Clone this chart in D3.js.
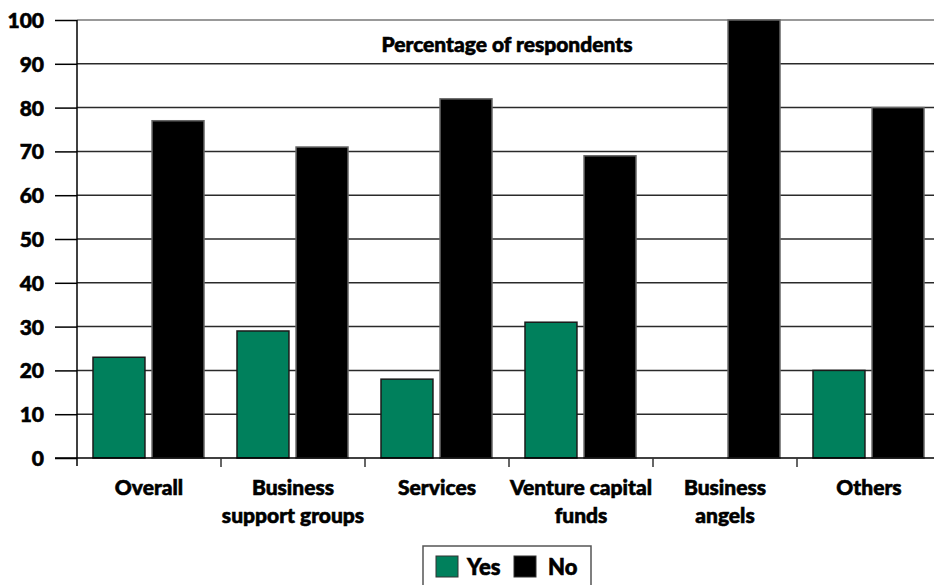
<!DOCTYPE html>
<html>
<head>
<meta charset="utf-8">
<script src="https://cdn.jsdelivr.net/npm/d3@7"></script>
<style>
  html, body { margin: 0; padding: 0; background: #fff; }
  svg { display: block; }
  /* heavy humanist labels: bold face thickened with a thin outline */
  text { font-family: Lato, "Open Sans", sans-serif; font-weight: 900; fill: #000; stroke: #000; stroke-width: 0.6px; }
</style>
</head>
<body>
<svg id="chart" width="934" height="585"></svg>
<script>
// Categories (multi-line labels split on "\n")
const categories = ["Overall", "Business\nsupport groups", "Services", "Venture capital\nfunds", "Business\nangels", "Others"];
const yesValues = [23, 29, 18, 31, 0, 20];
const noValues  = [77, 71, 82, 69, 100, 80];
const yTicks = [0, 10, 20, 30, 40, 50, 60, 70, 80, 90, 100];
const seriesNames = ["Yes", "No"];
const seriesColors = ["#00805c", "#000000"];

const svg = d3.select("#chart");
const plotLeft = 77, plotRight = 941, plotTop = 20, plotBottom = 458;

const x = d3.scaleBand().domain(categories).range([plotLeft, plotRight]).paddingInner(0).paddingOuter(0);
const inner = d3.scaleBand().domain(seriesNames).range([16, x.bandwidth() - 17]).paddingInner(0.12);
const y = d3.scaleLinear().domain([0, 100]).range([plotBottom, plotTop]);

// Horizontal gridlines
svg.append("g")
  .selectAll("line")
  .data(yTicks.filter(d => d > 0))
  .join("line")
  .attr("x1", plotLeft).attr("x2", 934)
  .attr("y1", d => y(d)).attr("y2", d => y(d))
  .attr("stroke", d => d === 100 ? "#777" : "#2a2a2a")
  .attr("stroke-width", 1.5);

// Bars
const groups = svg.append("g").selectAll("g")
  .data(categories.map((c, i) => ({ c, vals: [yesValues[i], noValues[i]] })))
  .join("g")
  .attr("transform", d => `translate(${x(d.c)},0)`);

groups.selectAll("rect")
  .data(d => d.vals.map((v, j) => ({ v, s: seriesNames[j], j })).filter(d => d.v > 0))
  .join("rect")
  .attr("x", d => inner(d.s))
  .attr("width", inner.bandwidth())
  .attr("y", d => y(d.v))
  .attr("height", d => y(0) - y(d.v))
  .attr("fill", d => seriesColors[d.j])
  .attr("stroke", d => d.j === 0 ? "#1a1a1a" : "#666")
  .attr("stroke-width", 1.5);

// Y axis
const yAxis = d3.axisLeft(y).tickValues(yTicks).tickSize(22).tickPadding(11);
const yg = svg.append("g").attr("transform", `translate(${plotLeft},0)`).call(yAxis);
yg.select(".domain").attr("stroke", "#000").attr("stroke-width", 1.5).attr("d", `M0,${plotTop}V${plotBottom + 8}`);
yg.selectAll(".tick line").attr("stroke", "#000").attr("stroke-width", 1.5);
yg.selectAll(".tick text").attr("font-size", 21).attr("font-family", "Lato, sans-serif").attr("font-weight", 900).attr("fill", "#000").attr("dy", "0.36em");

// Baseline
svg.append("line").attr("x1", 55).attr("x2", 934).attr("y1", y(0)).attr("y2", y(0))
  .attr("stroke", "#000").attr("stroke-width", 1.5);

// Category separator ticks
svg.append("g").selectAll("line")
  .data(categories.slice(1))
  .join("line")
  .attr("x1", d => x(d)).attr("x2", d => x(d))
  .attr("y1", y(0)).attr("y2", y(0) + 9)
  .attr("stroke", "#333").attr("stroke-width", 1.5);

// Category labels
const lab = svg.append("g").selectAll("text")
  .data(categories)
  .join("text")
  .attr("x", d => x(d) + x.bandwidth() / 2)
  .attr("y", 495)
  .attr("text-anchor", "middle")
  .attr("font-size", 21);
lab.selectAll("tspan")
  .data(d => d.split("\n").map(t => ({ t, x: x(d) + x.bandwidth() / 2 })))
  .join("tspan")
  .attr("x", d => d.x)
  .attr("dy", (d, i) => i === 0 ? 0 : 27.5)
  .text(d => d.t);

// Inner caption
svg.append("text").attr("x", 507).attr("y", 52).attr("text-anchor", "middle")
  .attr("font-size", 21).text("Percentage of respondents");

// Legend
const lg = svg.append("g");
lg.append("rect").attr("x", 423).attr("y", 546).attr("width", 168).attr("height", 45)
  .attr("fill", "#fff").attr("stroke", "#555").attr("stroke-width", 1.5);
const items = lg.selectAll("g").data(seriesNames).join("g")
  .attr("transform", (d, i) => `translate(${[436, 514][i]},556)`);
items.append("rect").attr("width", 22).attr("height", 21)
  .attr("fill", (d, i) => seriesColors[i]).attr("stroke", "#333").attr("stroke-width", 1);
items.append("text").attr("x", (d, i) => [31, 34][i]).attr("y", 19).attr("font-size", 22).text(d => d);
</script>
</body>
</html>
